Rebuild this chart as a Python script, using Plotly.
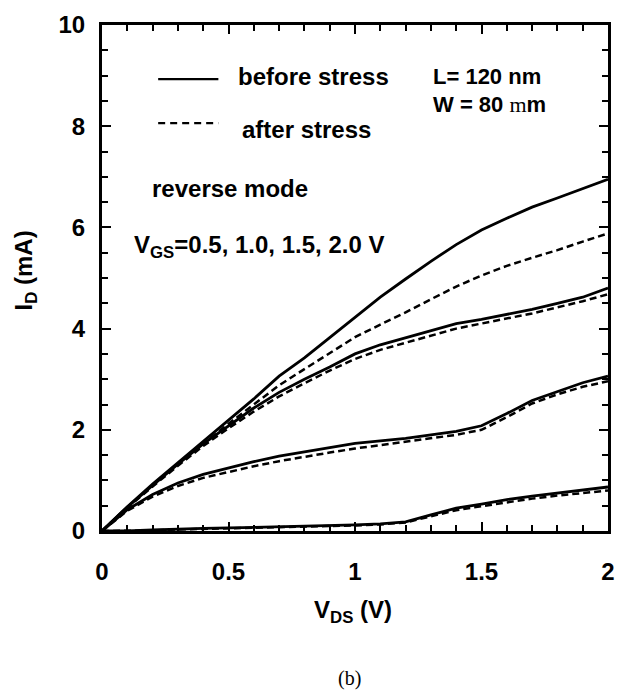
import plotly.graph_objects as go

# ---- data ----
vds = [0.0, 0.1, 0.2, 0.3, 0.4, 0.5, 0.6, 0.7, 0.8, 0.9, 1.0,
       1.1, 1.2, 1.3, 1.4, 1.5, 1.6, 1.7, 1.8, 1.9, 2.0]

id_before_vgs20 = [0, 0.48, 0.93, 1.35, 1.77, 2.18, 2.61, 3.06, 3.42, 3.82, 4.22,
                   4.62, 4.98, 5.33, 5.66, 5.95, 6.18, 6.40, 6.58, 6.76, 6.95]
id_after_vgs20 = [0, 0.47, 0.90, 1.32, 1.72, 2.12, 2.50, 2.88, 3.20, 3.52, 3.83,
                  4.08, 4.32, 4.58, 4.83, 5.05, 5.24, 5.40, 5.55, 5.72, 5.88]
id_before_vgs15 = [0, 0.47, 0.90, 1.32, 1.72, 2.08, 2.43, 2.74, 3.00, 3.24, 3.50,
                   3.68, 3.82, 3.97, 4.10, 4.18, 4.28, 4.38, 4.50, 4.62, 4.80]
id_after_vgs15 = [0, 0.46, 0.88, 1.29, 1.68, 2.03, 2.36, 2.66, 2.92, 3.17, 3.40,
                  3.58, 3.72, 3.86, 4.00, 4.10, 4.20, 4.30, 4.42, 4.54, 4.68]
id_before_vgs10 = [0, 0.42, 0.72, 0.95, 1.12, 1.25, 1.37, 1.48, 1.57, 1.65, 1.73,
                   1.78, 1.83, 1.90, 1.97, 2.08, 2.32, 2.58, 2.76, 2.93, 3.06]
id_after_vgs10 = [0, 0.40, 0.68, 0.89, 1.05, 1.17, 1.28, 1.38, 1.47, 1.55, 1.63,
                  1.70, 1.76, 1.83, 1.90, 2.00, 2.25, 2.52, 2.70, 2.85, 2.96]
id_before_vgs05 = [0, 0.0, 0.02, 0.04, 0.05, 0.06, 0.07, 0.08, 0.09, 0.10, 0.12,
                   0.14, 0.18, 0.32, 0.45, 0.53, 0.62, 0.69, 0.75, 0.81, 0.87]
id_after_vgs05 = [0, 0.0, 0.01, 0.03, 0.04, 0.05, 0.06, 0.07, 0.08, 0.09, 0.11,
                  0.13, 0.17, 0.29, 0.41, 0.49, 0.57, 0.64, 0.70, 0.75, 0.80]

before_series = [id_before_vgs05, id_before_vgs10, id_before_vgs15, id_before_vgs20]
after_series = [id_after_vgs05, id_after_vgs10, id_after_vgs15, id_after_vgs20]

x_tickvals = [0, 0.5, 1, 1.5, 2]
x_ticktext = ["0", "0.5", "1", "1.5", "2"]
y_tickvals = [0, 2, 4, 6, 8, 10]
y_ticktext = ["0", "2", "4", "6", "8", "10"]

FONT = "Liberation Sans, Arial, sans-serif"
FS = 24

fig = go.Figure()
for ys in before_series:
    fig.add_trace(go.Scatter(x=vds, y=ys, mode="lines",
                             line=dict(color="black", width=2.8),
                             showlegend=False, hoverinfo="skip"))
for ys in after_series:
    fig.add_trace(go.Scatter(x=vds, y=ys, mode="lines",
                             line=dict(color="black", width=2.5, dash="7px,4px"),
                             showlegend=False, hoverinfo="skip"))

axis_common = dict(
    showline=True, linecolor="black", linewidth=3, mirror="ticks",
    ticks="inside", ticklen=9, tickwidth=2, tickcolor="black",
    showgrid=False, zeroline=False,
    tickfont=dict(family=FONT, size=FS, color="black", weight="bold"),
)

fig.update_xaxes(range=[0, 2], tickvals=x_tickvals, ticktext=x_ticktext,
                 minor=dict(dtick=0.1, ticks="inside", ticklen=6, tickwidth=2,
                            tickcolor="black", showgrid=False),
                 ticklabelstandoff=17, **axis_common)
fig.update_yaxes(range=[0, 10], tickvals=y_tickvals, ticktext=y_ticktext,
                 minor=dict(dtick=0.5, ticks="inside", ticklen=6, tickwidth=2,
                            tickcolor="black", showgrid=False),
                 ticklabelstandoff=9, **axis_common)

def ann(text, x, y, xanchor="left", size=FS, family=FONT, angle=0, yanchor="middle"):
    fig.add_annotation(text=text, x=x, y=y, xref="paper", yref="paper",
                       xanchor=xanchor, yanchor=yanchor, showarrow=False,
                       textangle=angle,
                       font=dict(family=family, size=size, color="black"))

ann("<b>before stress</b>", 0.264, 0.899)
ann("<b>after stress</b>", 0.272, 0.793)
ann("<b>L= 120 nm</b>", 0.650, 0.899, size=22)
ann("<b>W = 80 </b><span style='font-family:Liberation Serif'>m</span><b>m</b>",
    0.650, 0.843, size=22)
ann("<b>reverse mode</b>", 0.094, 0.676)
ann("<b>V<sub>GS</sub>=0.5, 1.0, 1.5, 2.0 V</b>", 0.060, 0.562)
ann("<b>I<sub>D</sub> (mA)</b>", -0.152, 0.515, xanchor="center", angle=-90)
ann("<b>V<sub>DS</sub> (V)</b>", 0.497, -0.160, xanchor="center")
ann("(b)", 0.490, -0.292, xanchor="center", size=20,
    family="Liberation Serif, Times New Roman, serif")

# legend sample lines
fig.add_shape(type="line", xref="paper", yref="paper", x0=0.111, x1=0.230,
              y0=0.893, y1=0.893, line=dict(color="black", width=2.2))
fig.add_shape(type="line", xref="paper", yref="paper", x0=0.111, x1=0.230,
              y0=0.806, y1=0.806, line=dict(color="black", width=2.2, dash="7px,5px"))

fig.update_layout(
    width=626, height=700,
    margin=dict(l=102, r=11, t=16, b=169),
    paper_bgcolor="white", plot_bgcolor="white",
    showlegend=False,
)

fig.write_html("out.html")
